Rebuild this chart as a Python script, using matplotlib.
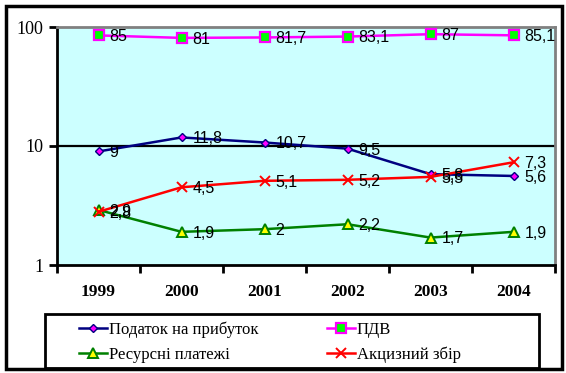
import matplotlib
matplotlib.use("Agg")
import matplotlib.pyplot as plt
from matplotlib.patches import Rectangle

years = ["1999", "2000", "2001", "2002", "2003", "2004"]
profit_tax = [9, 11.8, 10.7, 9.5, 5.8, 5.6]
vat = [85, 81, 81.7, 83.1, 87, 85.1]
resource = [2.9, 1.9, 2, 2.2, 1.7, 1.9]
excise = [2.8, 4.5, 5.1, 5.2, 5.5, 7.3]
names = ["Податок на прибуток", "ПДВ", "Ресурсні платежі", "Акцизний збір"]

W, H = 566, 373
fig = plt.figure(figsize=(W / 100, H / 100), dpi=100)
fig.patch.set_facecolor("white")

def fx(px):
    return px / W

def fy(py):
    return 1 - py / H

ax = fig.add_axes([fx(57), fy(265), fx(555) - fx(57), fy(27) - fy(265)])
ax.set_facecolor("#CCFFFF")
ax.set_yscale("log")
ax.set_ylim(1, 100)
ax.set_xlim(-0.5, len(years) - 0.5)

x = list(range(len(years)))
series = [
    (profit_tax, dict(color="#000080", marker="D", markersize=4.5, markerfacecolor="#FF00FF",
                      markeredgecolor="#000080", markeredgewidth=1)),
    (vat, dict(color="#FF00FF", marker="s", markersize=6.5, markerfacecolor="#00FF00",
               markeredgecolor="#FF00FF", markeredgewidth=1.6)),
    (resource, dict(color="#008000", marker="^", markersize=6.5, markerfacecolor="#FFFF00",
                    markeredgecolor="#008000", markeredgewidth=1.4)),
    (excise, dict(color="#FF0000", marker="x", markersize=7, markeredgecolor="#FF0000",
                  markeredgewidth=1.4)),
]
handles = []
for (vals, st), nm in zip(series, names):
    ln, = ax.plot(x, vals, linewidth=1.8, label=nm, zorder=3, **st)
    handles.append(ln)
    for xi, v in zip(x, vals):
        lab = f"{v:g}".replace(".", ",")
        ax.annotate(lab, (xi, v), xytext=(8, -1), textcoords="offset points",
                    va="center", ha="left", fontsize=11.5, family="Liberation Sans",
                    color="black", zorder=4)

ax.axhline(10, color="black", linewidth=1.6, zorder=2)

for s in ["left", "bottom"]:
    ax.spines[s].set_color("black")
    ax.spines[s].set_linewidth(2)
for s in ["top", "right"]:
    ax.spines[s].set_color("#808080")
    ax.spines[s].set_linewidth(2)

ax.set_yticks([1, 10, 100])
ax.set_yticklabels(["1", "10", "100"], family="Liberation Serif", fontsize=13)
ax.yaxis.set_minor_locator(matplotlib.ticker.NullLocator())
ax.tick_params(axis="y", which="major", length=6, width=2, direction="out", pad=4)

ax.set_xticks(x)
ax.set_xticklabels(years, family="Liberation Serif", fontsize=12.5, fontweight="bold")
ax.tick_params(axis="x", which="major", length=0, pad=14)
ax.set_xticks([i - 0.5 for i in range(len(years) + 1)], minor=True)
ax.tick_params(axis="x", which="minor", length=6, width=2, direction="out")

# outer border
fig.patches.append(Rectangle((fx(6), fy(369)), fx(562) - fx(6), fy(6) - fy(369),
                             transform=fig.transFigure, fill=False, edgecolor="black",
                             linewidth=2.5, zorder=0))
# legend box
fig.patches.append(Rectangle((fx(45), fy(368)), fx(539) - fx(45), fy(314) - fy(368),
                             transform=fig.transFigure, fill=False, edgecolor="black",
                             linewidth=2, zorder=5))

order = [handles[0], handles[2], handles[1], handles[3]]
leg = fig.legend(order, [h.get_label() for h in order], ncol=2, frameon=False,
                 loc="upper left", bbox_to_anchor=(fx(74), fy(316)),
                 prop={"family": "Liberation Serif", "size": 12},
                 handlelength=1.7, handletextpad=0.1, columnspacing=4.1,
                 labelspacing=0.55, borderaxespad=0, borderpad=0.3)

fig.savefig("out.png", dpi=100)
